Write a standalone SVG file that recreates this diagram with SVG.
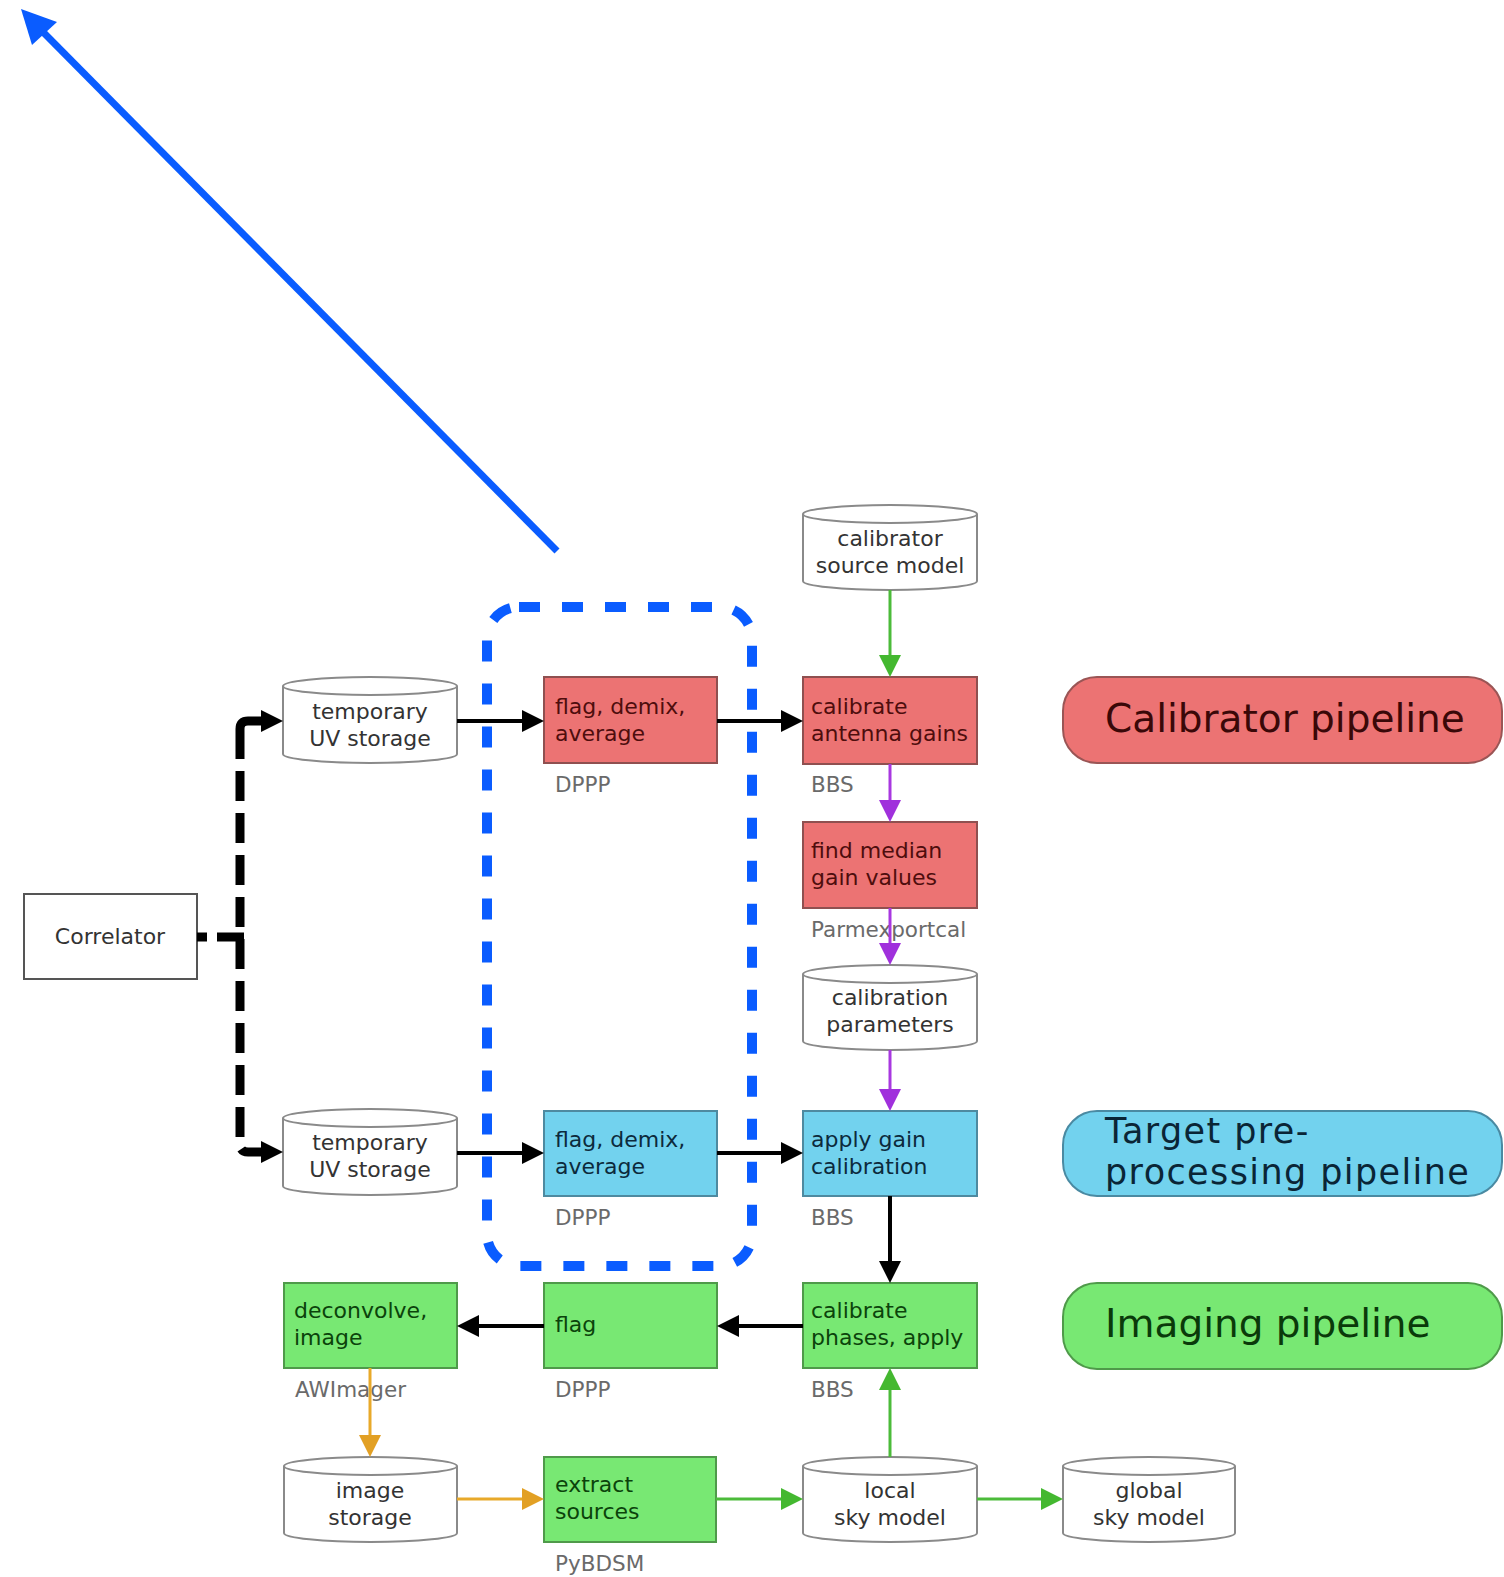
<svg xmlns="http://www.w3.org/2000/svg" width="1504" height="1577" viewBox="0 0 1504 1577">
  <style>
    .t { font-family: "DejaVu Sans", "Noto Sans", sans-serif; font-size: 22px; }
    .lbl { font-family: "DejaVu Sans", "Noto Sans", sans-serif; font-size: 21.5px; fill: #6a6a6a; }
    .pl { font-family: "DejaVu Sans", "Noto Sans", sans-serif; font-size: 39px; }
    .cyl { fill: #ffffff; stroke: #8a8a8a; stroke-width: 2; }
    .cyl-t { fill: #333333; text-anchor: middle; }
    .red { fill: #ec7373; stroke: #8f5050; stroke-width: 2; }
    .red-t { fill: #4e0d0d; }
    .blue { fill: #72d2ee; stroke: #4e8aa0; stroke-width: 2; }
    .blue-t { fill: #0c2a3c; }
    .green { fill: #78e873; stroke: #4f9a4a; stroke-width: 2; }
    .green-t { fill: #0b430b; }
    .c-black { stroke: #000; stroke-width: 4; fill: none; }
    .c-green { stroke: #4cbb3a; stroke-width: 3; fill: none; }
    .c-purple { stroke: #a838e0; stroke-width: 3; fill: none; }
    .c-orange { stroke: #e8a92a; stroke-width: 3; fill: none; }
    .c-dash { stroke: #000; stroke-width: 9; fill: none; stroke-dasharray: 30 12; }
  </style>
  <defs>
    <marker id="ah-black" viewBox="0 0 22 22" refX="0" refY="11" markerWidth="22" markerHeight="22" markerUnits="userSpaceOnUse" orient="auto">
      <path d="M0,0 L22,11 L0,22 z" fill="#000"/>
    </marker>
    <marker id="ah-green" viewBox="0 0 22 22" refX="0" refY="11" markerWidth="22" markerHeight="22" markerUnits="userSpaceOnUse" orient="auto">
      <path d="M0,0 L22,11 L0,22 z" fill="#44b830"/>
    </marker>
    <marker id="ah-purple" viewBox="0 0 22 22" refX="0" refY="11" markerWidth="22" markerHeight="22" markerUnits="userSpaceOnUse" orient="auto">
      <path d="M0,0 L22,11 L0,22 z" fill="#a030dc"/>
    </marker>
    <marker id="ah-orange" viewBox="0 0 22 22" refX="0" refY="11" markerWidth="22" markerHeight="22" markerUnits="userSpaceOnUse" orient="auto">
      <path d="M0,0 L22,11 L0,22 z" fill="#e2a024"/>
    </marker>
  </defs>

  <rect width="1504" height="1577" fill="#ffffff"/>

  <!-- nodes -->
  <g id="correlator">
    <rect x="24" y="894" width="173" height="85" fill="#fff" stroke="#555" stroke-width="2"/>
    <text class="t" x="110" y="944" text-anchor="middle" fill="#333">Correlator</text>
  </g>

  <g id="temp-uv-1">
    <path class="cyl" d="M283,686 A87,9 0 0 1 457,686 V754 A87,9 0 0 1 283,754 Z M283,686 A87,9 0 0 0 457,686"/>
    <text class="t cyl-t"><tspan x="370" y="719">temporary</tspan><tspan x="370" dy="27">UV storage</tspan></text>
  </g>

  <g id="flag-demix-cal">
    <rect class="red" x="544" y="677" width="173" height="86"/>
    <text class="t red-t"><tspan x="555" y="714">flag, demix,</tspan><tspan x="555" dy="27">average</tspan></text>
    <text class="lbl" x="555" y="792">DPPP</text>
  </g>

  <g id="calibrator-source-model">
    <path class="cyl" d="M803,514 A87,9 0 0 1 977,514 V581 A87,9 0 0 1 803,581 Z M803,514 A87,9 0 0 0 977,514"/>
    <text class="t cyl-t"><tspan x="890" y="546">calibrator</tspan><tspan x="890" dy="27">source model</tspan></text>
  </g>

  <g id="calibrate-antenna-gains">
    <rect class="red" x="803" y="677" width="174" height="87"/>
    <text class="t red-t"><tspan x="811" y="714">calibrate</tspan><tspan x="811" dy="27">antenna gains</tspan></text>
    <text class="lbl" x="811" y="792">BBS</text>
  </g>

  <g id="find-median">
    <rect class="red" x="803" y="822" width="174" height="86"/>
    <text class="t red-t"><tspan x="811" y="858">find median</tspan><tspan x="811" dy="27">gain values</tspan></text>
    <text class="lbl" x="811" y="937">Parmexportcal</text>
  </g>

  <g id="calibration-parameters">
    <path class="cyl" d="M803,974 A87,9 0 0 1 977,974 V1041 A87,9 0 0 1 803,1041 Z M803,974 A87,9 0 0 0 977,974"/>
    <text class="t cyl-t"><tspan x="890" y="1005">calibration</tspan><tspan x="890" dy="27">parameters</tspan></text>
  </g>

  <g id="calibrator-pipeline">
    <rect x="1063" y="677" width="439" height="86" rx="34" fill="#ec7373" stroke="#9a5555" stroke-width="2"/>
    <text class="pl" x="1105" y="732" fill="#3a0808">Calibrator pipeline</text>
  </g>

  <g id="temp-uv-2">
    <path class="cyl" d="M283,1118 A87,9 0 0 1 457,1118 V1186 A87,9 0 0 1 283,1186 Z M283,1118 A87,9 0 0 0 457,1118"/>
    <text class="t cyl-t"><tspan x="370" y="1150">temporary</tspan><tspan x="370" dy="27">UV storage</tspan></text>
  </g>

  <g id="flag-demix-target">
    <rect class="blue" x="544" y="1111" width="173" height="85"/>
    <text class="t blue-t"><tspan x="555" y="1147">flag, demix,</tspan><tspan x="555" dy="27">average</tspan></text>
    <text class="lbl" x="555" y="1225">DPPP</text>
  </g>

  <g id="apply-gain-calibration">
    <rect class="blue" x="803" y="1111" width="174" height="85"/>
    <text class="t blue-t"><tspan x="811" y="1147">apply gain</tspan><tspan x="811" dy="27">calibration</tspan></text>
    <text class="lbl" x="811" y="1225">BBS</text>
  </g>

  <g id="target-pipeline">
    <rect x="1063" y="1111" width="439" height="85" rx="34" fill="#72d2ee" stroke="#4a8aa2" stroke-width="2"/>
    <text class="pl" fill="#0a2536" style="font-size:35px; letter-spacing:1.4px"><tspan x="1105" y="1143">Target pre-</tspan><tspan x="1105" dy="41">processing pipeline</tspan></text>
  </g>

  <g id="deconvolve-image">
    <rect class="green" x="284" y="1283" width="173" height="85"/>
    <text class="t green-t"><tspan x="294" y="1318">deconvolve,</tspan><tspan x="294" dy="27">image</tspan></text>
    <text class="lbl" x="295" y="1397">AWImager</text>
  </g>

  <g id="flag-imaging">
    <rect class="green" x="544" y="1283" width="173" height="85"/>
    <text class="t green-t" x="555" y="1332">flag</text>
    <text class="lbl" x="555" y="1397">DPPP</text>
  </g>

  <g id="calibrate-phases">
    <rect class="green" x="803" y="1283" width="174" height="85"/>
    <text class="t green-t"><tspan x="811" y="1318">calibrate</tspan><tspan x="811" dy="27">phases, apply</tspan></text>
    <text class="lbl" x="811" y="1397">BBS</text>
  </g>

  <g id="imaging-pipeline">
    <rect x="1063" y="1283" width="439" height="86" rx="34" fill="#78e873" stroke="#4f9a4a" stroke-width="2"/>
    <text class="pl" x="1105" y="1337" fill="#0a3a0a">Imaging pipeline</text>
  </g>

  <g id="image-storage">
    <path class="cyl" d="M284,1466 A86.5,9 0 0 1 457,1466 V1533 A86.5,9 0 0 1 284,1533 Z M284,1466 A86.5,9 0 0 0 457,1466"/>
    <text class="t cyl-t"><tspan x="370" y="1498">image</tspan><tspan x="370" dy="27">storage</tspan></text>
  </g>

  <g id="extract-sources">
    <rect class="green" x="544" y="1457" width="172" height="85"/>
    <text class="t green-t"><tspan x="555" y="1492">extract</tspan><tspan x="555" dy="27">sources</tspan></text>
    <text class="lbl" x="555" y="1571">PyBDSM</text>
  </g>

  <g id="local-sky-model">
    <path class="cyl" d="M803,1466 A87,9 0 0 1 977,1466 V1533 A87,9 0 0 1 803,1533 Z M803,1466 A87,9 0 0 0 977,1466"/>
    <text class="t cyl-t"><tspan x="890" y="1498">local</tspan><tspan x="890" dy="27">sky model</tspan></text>
  </g>

  <g id="global-sky-model">
    <path class="cyl" d="M1063,1466 A86,9 0 0 1 1235,1466 V1533 A86,9 0 0 1 1063,1533 Z M1063,1466 A86,9 0 0 0 1235,1466"/>
    <text class="t cyl-t"><tspan x="1149" y="1498">global</tspan><tspan x="1149" dy="27">sky model</tspan></text>
  </g>

  <!-- connectors -->
  <g id="connectors">
    <path d="M197,937 H207 M217,937 H244" stroke="#000" stroke-width="9" fill="none"/>
    <path class="c-dash" d="M240,729 V1144 Q240,1152 248,1152 H261" marker-end="url(#ah-black)"/>
    <path class="c-dash" d="M240,729 Q240,721 248,721 H261" marker-end="url(#ah-black)"/>

    <path class="c-black" d="M457,721 H522" marker-end="url(#ah-black)"/>
    <path class="c-black" d="M717,721 H781" marker-end="url(#ah-black)"/>
    <path class="c-black" d="M457,1153 H522" marker-end="url(#ah-black)"/>
    <path class="c-black" d="M717,1153 H781" marker-end="url(#ah-black)"/>
    <path class="c-black" d="M890,1196 V1261" marker-end="url(#ah-black)"/>
    <path class="c-black" d="M803,1326 H739" marker-end="url(#ah-black)"/>
    <path class="c-black" d="M544,1326 H479" marker-end="url(#ah-black)"/>

    <path class="c-green" d="M890,590 V655" marker-end="url(#ah-green)"/>
    <path class="c-purple" d="M890,764 V800" marker-end="url(#ah-purple)"/>
    <path class="c-purple" d="M890,908 V943" marker-end="url(#ah-purple)"/>
    <path class="c-purple" d="M890,1050 V1089" marker-end="url(#ah-purple)"/>

    <path class="c-orange" d="M370,1368 V1435" marker-end="url(#ah-orange)"/>
    <path class="c-orange" d="M457,1499 H522" marker-end="url(#ah-orange)"/>
    <path class="c-green" d="M716,1499 H781" marker-end="url(#ah-green)"/>
    <path class="c-green" d="M977,1499 H1041" marker-end="url(#ah-green)"/>
    <path class="c-green" d="M890,1457 V1390" marker-end="url(#ah-green)"/>
  </g>

  <!-- highlight: dashed outline round the DPPP steps, and pointer arrow -->
  <g id="highlight">
    <rect x="487" y="607" width="265" height="659" rx="32" fill="none" stroke="#0a5cff" stroke-width="10" stroke-dasharray="21 22"/>
    <line x1="557" y1="551" x2="44" y2="33" stroke="#0a5cff" stroke-width="7"/>
    <polygon points="21,9 57,22 32,45" fill="#0a5cff"/>
  </g>
</svg>
